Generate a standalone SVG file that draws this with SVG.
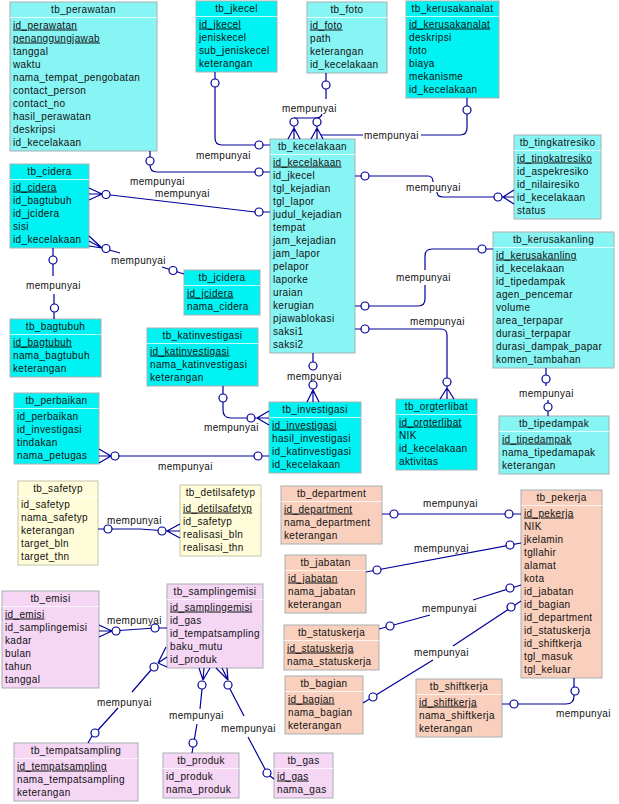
<svg xmlns="http://www.w3.org/2000/svg" width="619" height="804" viewBox="0 0 619 804">
<style>
.t{font-family:"Liberation Sans",Arial,sans-serif;font-size:10px;letter-spacing:0.35px;fill:#111}
.h{text-anchor:middle}
.u{text-decoration:underline}
.bx{stroke:#a8b0b0;stroke-width:1}
.cb{fill:#00f2f2}
.cl{fill:#88f5f5}
.pe{fill:#f9cfbd}
.pk{fill:#f5d6f5}
.ye{fill:#fffcd9;stroke:#c8c4a8}
.sp{stroke:#ffffff;stroke-opacity:0.75;stroke-width:1}
.ln{fill:none;stroke:#00009a;stroke-width:1.2}
.ci{fill:#ffffff;stroke:#00009a;stroke-width:1.2}
</style>
<rect width="619" height="804" fill="#ffffff"/>

<g id="tb_perawatan" transform="translate(10,2)">
<rect class="bx cl" width="147" height="149"/><line class="sp" x1="0" y1="15.5" x2="147" y2="15.5"/>
<text class="t h" x="73.5" y="11">tb_perawatan</text>
<text class="t u" x="3" y="26.5">id_perawatan</text>
<text class="t u" x="3" y="39.5">penanggungjawab</text>
<text class="t" x="3" y="52.5">tanggal</text>
<text class="t" x="3" y="65.5">waktu</text>
<text class="t" x="3" y="78.5">nama_tempat_pengobatan</text>
<text class="t" x="3" y="91.5">contact_person</text>
<text class="t" x="3" y="104.5">contact_no</text>
<text class="t" x="3" y="117.5">hasil_perawatan</text>
<text class="t" x="3" y="130.5">deskripsi</text>
<text class="t" x="3" y="143.5">id_kecelakaan</text>
</g>

<g id="tb_jkecel" transform="translate(196,1)">
<rect class="bx cb" width="81" height="71"/><line class="sp" x1="0" y1="15.5" x2="81" y2="15.5"/>
<text class="t h" x="40.5" y="11">tb_jkecel</text>
<text class="t u" x="3" y="26.5">id_jkecel</text>
<text class="t" x="3" y="39.5">jeniskecel</text>
<text class="t" x="3" y="52.5">sub_jeniskecel</text>
<text class="t" x="3" y="65.5">keterangan</text>
</g>

<g id="tb_foto" transform="translate(307,2)">
<rect class="bx cl" width="80" height="71"/><line class="sp" x1="0" y1="15.5" x2="80" y2="15.5"/>
<text class="t h" x="40" y="11">tb_foto</text>
<text class="t u" x="3" y="26.5">id_foto</text>
<text class="t" x="3" y="39.5">path</text>
<text class="t" x="3" y="52.5">keterangan</text>
<text class="t" x="3" y="65.5">id_kecelakaan</text>
</g>

<g id="tb_kerusakanalat" transform="translate(406,1)">
<rect class="bx cb" width="93" height="97"/><line class="sp" x1="0" y1="15.5" x2="93" y2="15.5"/>
<text class="t h" x="46.5" y="11">tb_kerusakanalat</text>
<text class="t u" x="3" y="26.5">id_kerusakanalat</text>
<text class="t" x="3" y="39.5">deskripsi</text>
<text class="t" x="3" y="52.5">foto</text>
<text class="t" x="3" y="65.5">biaya</text>
<text class="t" x="3" y="78.5">mekanisme</text>
<text class="t" x="3" y="91.5">id_kecelakaan</text>
</g>

<g id="tb_kecelakaan" transform="translate(270,139)">
<rect class="bx cl" width="85" height="214"/><line class="sp" x1="0" y1="15.5" x2="85" y2="15.5"/>
<text class="t h" x="42.5" y="11">tb_kecelakaan</text>
<text class="t u" x="3" y="26.5">id_kecelakaan</text>
<text class="t" x="3" y="39.5">id_jkecel</text>
<text class="t" x="3" y="52.5">tgl_kejadian</text>
<text class="t" x="3" y="65.5">tgl_lapor</text>
<text class="t" x="3" y="78.5">judul_kejadian</text>
<text class="t" x="3" y="91.5">tempat</text>
<text class="t" x="3" y="104.5">jam_kejadian</text>
<text class="t" x="3" y="117.5">jam_lapor</text>
<text class="t" x="3" y="130.5">pelapor</text>
<text class="t" x="3" y="143.5">laporke</text>
<text class="t" x="3" y="156.5">uraian</text>
<text class="t" x="3" y="169.5">kerugian</text>
<text class="t" x="3" y="182.5">pjawablokasi</text>
<text class="t" x="3" y="195.5">saksi1</text>
<text class="t" x="3" y="208.5">saksi2</text>
</g>

<g id="tb_tingkatresiko" transform="translate(514,135)">
<rect class="bx cl" width="87" height="84"/><line class="sp" x1="0" y1="15.5" x2="87" y2="15.5"/>
<text class="t h" x="43.5" y="11">tb_tingkatresiko</text>
<text class="t u" x="3" y="26.5">id_tingkatresiko</text>
<text class="t" x="3" y="39.5">id_aspekresiko</text>
<text class="t" x="3" y="52.5">id_nilairesiko</text>
<text class="t" x="3" y="65.5">id_kecelakaan</text>
<text class="t" x="3" y="78.5">status</text>
</g>

<g id="tb_cidera" transform="translate(10,164)">
<rect class="bx cb" width="79" height="84"/><line class="sp" x1="0" y1="15.5" x2="79" y2="15.5"/>
<text class="t h" x="39.5" y="11">tb_cidera</text>
<text class="t u" x="3" y="26.5">id_cidera</text>
<text class="t" x="3" y="39.5">id_bagtubuh</text>
<text class="t" x="3" y="52.5">id_jcidera</text>
<text class="t" x="3" y="65.5">sisi</text>
<text class="t" x="3" y="78.5">id_kecelakaan</text>
</g>

<g id="tb_jcidera" transform="translate(184,270)">
<rect class="bx cb" width="76" height="45"/><line class="sp" x1="0" y1="15.5" x2="76" y2="15.5"/>
<text class="t h" x="38" y="11">tb_jcidera</text>
<text class="t u" x="3" y="26.5">id_jcidera</text>
<text class="t" x="3" y="39.5">nama_cidera</text>
</g>

<g id="tb_bagtubuh" transform="translate(10,319)">
<rect class="bx cb" width="91" height="58"/><line class="sp" x1="0" y1="15.5" x2="91" y2="15.5"/>
<text class="t h" x="45.5" y="11">tb_bagtubuh</text>
<text class="t u" x="3" y="26.5">id_bagtubuh</text>
<text class="t" x="3" y="39.5">nama_bagtubuh</text>
<text class="t" x="3" y="52.5">keterangan</text>
</g>

<g id="tb_katinvestigasi" transform="translate(147,328)">
<rect class="bx cb" width="111" height="58"/><line class="sp" x1="0" y1="15.5" x2="111" y2="15.5"/>
<text class="t h" x="55.5" y="11">tb_katinvestigasi</text>
<text class="t u" x="3" y="26.5">id_katinvestigasi</text>
<text class="t" x="3" y="39.5">nama_katinvestigasi</text>
<text class="t" x="3" y="52.5">keterangan</text>
</g>

<g id="tb_kerusakanling" transform="translate(493,232)">
<rect class="bx cl" width="121" height="136"/><line class="sp" x1="0" y1="15.5" x2="121" y2="15.5"/>
<text class="t h" x="60.5" y="11">tb_kerusakanling</text>
<text class="t u" x="3" y="26.5">id_kerusakanling</text>
<text class="t" x="3" y="39.5">id_kecelakaan</text>
<text class="t" x="3" y="52.5">id_tipedampak</text>
<text class="t" x="3" y="65.5">agen_pencemar</text>
<text class="t" x="3" y="78.5">volume</text>
<text class="t" x="3" y="91.5">area_terpapar</text>
<text class="t" x="3" y="104.5">durasi_terpapar</text>
<text class="t" x="3" y="117.5">durasi_dampak_papar</text>
<text class="t" x="3" y="130.5">komen_tambahan</text>
</g>

<g id="tb_perbaikan" transform="translate(14,393)">
<rect class="bx cb" width="85" height="71"/><line class="sp" x1="0" y1="15.5" x2="85" y2="15.5"/>
<text class="t h" x="42.5" y="11">tb_perbaikan</text>
<text class="t" x="3" y="26.5">id_perbaikan</text>
<text class="t" x="3" y="39.5">id_investigasi</text>
<text class="t" x="3" y="52.5">tindakan</text>
<text class="t" x="3" y="65.5">nama_petugas</text>
</g>

<g id="tb_investigasi" transform="translate(269,402)">
<rect class="bx cb" width="92" height="71"/><line class="sp" x1="0" y1="15.5" x2="92" y2="15.5"/>
<text class="t h" x="46" y="11">tb_investigasi</text>
<text class="t u" x="3" y="26.5">id_investigasi</text>
<text class="t" x="3" y="39.5">hasil_investigasi</text>
<text class="t" x="3" y="52.5">id_katinvestigasi</text>
<text class="t" x="3" y="65.5">id_kecelakaan</text>
</g>

<g id="tb_orgterlibat" transform="translate(396,399)">
<rect class="bx cb" width="81" height="71"/><line class="sp" x1="0" y1="15.5" x2="81" y2="15.5"/>
<text class="t h" x="40.5" y="11">tb_orgterlibat</text>
<text class="t u" x="3" y="26.5">id_orgterlibat</text>
<text class="t" x="3" y="39.5">NIK</text>
<text class="t" x="3" y="52.5">id_kecelakaan</text>
<text class="t" x="3" y="65.5">aktivitas</text>
</g>

<g id="tb_tipedampak" transform="translate(499,416)">
<rect class="bx cl" width="110" height="58"/><line class="sp" x1="0" y1="15.5" x2="110" y2="15.5"/>
<text class="t h" x="55" y="11">tb_tipedampak</text>
<text class="t u" x="3" y="26.5">id_tipedampak</text>
<text class="t" x="3" y="39.5">nama_tipedamapak</text>
<text class="t" x="3" y="52.5">keterangan</text>
</g>

<g id="tb_safetyp" transform="translate(18,481)">
<rect class="bx ye" width="80" height="84"/><line class="sp" x1="0" y1="15.5" x2="80" y2="15.5"/>
<text class="t h" x="40" y="11">tb_safetyp</text>
<text class="t" x="3" y="26.5">id_safetyp</text>
<text class="t" x="3" y="39.5">nama_safetyp</text>
<text class="t" x="3" y="52.5">keterangan</text>
<text class="t" x="3" y="65.5">target_bln</text>
<text class="t" x="3" y="78.5">target_thn</text>
</g>

<g id="tb_detilsafetyp" transform="translate(180,485)">
<rect class="bx ye" width="81" height="71"/><line class="sp" x1="0" y1="15.5" x2="81" y2="15.5"/>
<text class="t h" x="40.5" y="11">tb_detilsafetyp</text>
<text class="t u" x="3" y="26.5">id_detilsafetyp</text>
<text class="t" x="3" y="39.5">id_safetyp</text>
<text class="t" x="3" y="52.5">realisasi_bln</text>
<text class="t" x="3" y="65.5">realisasi_thn</text>
</g>

<g id="tb_department" transform="translate(281,486)">
<rect class="bx pe" width="101" height="58"/><line class="sp" x1="0" y1="15.5" x2="101" y2="15.5"/>
<text class="t h" x="50.5" y="11">tb_department</text>
<text class="t u" x="3" y="26.5">id_department</text>
<text class="t" x="3" y="39.5">nama_department</text>
<text class="t" x="3" y="52.5">keterangan</text>
</g>

<g id="tb_pekerja" transform="translate(521,490)">
<rect class="bx pe" width="81" height="188"/><line class="sp" x1="0" y1="15.5" x2="81" y2="15.5"/>
<text class="t h" x="40.5" y="11">tb_pekerja</text>
<text class="t u" x="3" y="26.5">id_pekerja</text>
<text class="t" x="3" y="39.5">NIK</text>
<text class="t" x="3" y="52.5">jkelamin</text>
<text class="t" x="3" y="65.5">tgllahir</text>
<text class="t" x="3" y="78.5">alamat</text>
<text class="t" x="3" y="91.5">kota</text>
<text class="t" x="3" y="104.5">id_jabatan</text>
<text class="t" x="3" y="117.5">id_bagian</text>
<text class="t" x="3" y="130.5">id_department</text>
<text class="t" x="3" y="143.5">id_statuskerja</text>
<text class="t" x="3" y="156.5">id_shiftkerja</text>
<text class="t" x="3" y="169.5">tgl_masuk</text>
<text class="t" x="3" y="182.5">tgl_keluar</text>
</g>

<g id="tb_jabatan" transform="translate(285,555)">
<rect class="bx pe" width="81" height="58"/><line class="sp" x1="0" y1="15.5" x2="81" y2="15.5"/>
<text class="t h" x="40.5" y="11">tb_jabatan</text>
<text class="t u" x="3" y="26.5">id_jabatan</text>
<text class="t" x="3" y="39.5">nama_jabatan</text>
<text class="t" x="3" y="52.5">keterangan</text>
</g>

<g id="tb_statuskerja" transform="translate(284,625)">
<rect class="bx pe" width="95" height="45"/><line class="sp" x1="0" y1="15.5" x2="95" y2="15.5"/>
<text class="t h" x="47.5" y="11">tb_statuskerja</text>
<text class="t u" x="3" y="26.5">id_statuskerja</text>
<text class="t" x="3" y="39.5">nama_statuskerja</text>
</g>

<g id="tb_bagian" transform="translate(285,676)">
<rect class="bx pe" width="78" height="58"/><line class="sp" x1="0" y1="15.5" x2="78" y2="15.5"/>
<text class="t h" x="39" y="11">tb_bagian</text>
<text class="t u" x="3" y="26.5">id_bagian</text>
<text class="t" x="3" y="39.5">nama_bagian</text>
<text class="t" x="3" y="52.5">keterangan</text>
</g>

<g id="tb_shiftkerja" transform="translate(416,679)">
<rect class="bx pe" width="86" height="58"/><line class="sp" x1="0" y1="15.5" x2="86" y2="15.5"/>
<text class="t h" x="43" y="11">tb_shiftkerja</text>
<text class="t u" x="3" y="26.5">id_shiftkerja</text>
<text class="t" x="3" y="39.5">nama_shiftkerja</text>
<text class="t" x="3" y="52.5">keterangan</text>
</g>

<g id="tb_emisi" transform="translate(2,591)">
<rect class="bx pk" width="97" height="97"/><line class="sp" x1="0" y1="15.5" x2="97" y2="15.5"/>
<text class="t h" x="48.5" y="11">tb_emisi</text>
<text class="t u" x="3" y="26.5">id_emisi</text>
<text class="t" x="3" y="39.5">id_samplingemisi</text>
<text class="t" x="3" y="52.5">kadar</text>
<text class="t" x="3" y="65.5">bulan</text>
<text class="t" x="3" y="78.5">tahun</text>
<text class="t" x="3" y="91.5">tanggal</text>
</g>

<g id="tb_samplingemisi" transform="translate(167,584)">
<rect class="bx pk" width="96" height="84"/><line class="sp" x1="0" y1="15.5" x2="96" y2="15.5"/>
<text class="t h" x="48" y="11">tb_samplingemisi</text>
<text class="t u" x="3" y="26.5">id_samplingemisi</text>
<text class="t" x="3" y="39.5">id_gas</text>
<text class="t" x="3" y="52.5">id_tempatsampling</text>
<text class="t" x="3" y="65.5">baku_mutu</text>
<text class="t" x="3" y="78.5">id_produk</text>
</g>

<g id="tb_tempatsampling" transform="translate(14,743)">
<rect class="bx pk" width="124" height="58"/><line class="sp" x1="0" y1="15.5" x2="124" y2="15.5"/>
<text class="t h" x="62" y="11">tb_tempatsampling</text>
<text class="t u" x="3" y="26.5">id_tempatsampling</text>
<text class="t" x="3" y="39.5">nama_tempatsampling</text>
<text class="t" x="3" y="52.5">keterangan</text>
</g>

<g id="tb_produk" transform="translate(163,753)">
<rect class="bx pk" width="76" height="45"/><line class="sp" x1="0" y1="15.5" x2="76" y2="15.5"/>
<text class="t h" x="38" y="11">tb_produk</text>
<text class="t" x="3" y="26.5">id_produk</text>
<text class="t" x="3" y="39.5">nama_produk</text>
</g>

<g id="tb_gas" transform="translate(274,753)">
<rect class="bx pk" width="59" height="45"/><line class="sp" x1="0" y1="15.5" x2="59" y2="15.5"/>
<text class="t h" x="29.5" y="11">tb_gas</text>
<text class="t u" x="3" y="26.5">id_gas</text>
<text class="t" x="3" y="39.5">nama_gas</text>
</g>

<g id="connectors">
<!-- jkecel - kecelakaan -->
<path class="ln" d="M215,72 V138 Q215,145 222,145 H270"/>
<circle class="ci" cx="215" cy="83" r="4"/><circle class="ci" cx="259" cy="145" r="4"/>
<text class="t" x="196" y="159">mempunyai</text>
<!-- foto - kecelakaan -->
<path class="ln" d="M326,73 V99 M322,114 Q321,118 316,118 H294"/>
<path class="ln" d="M294,126 V139 M294,128 L288,139 M294,128 L300,139 M317,126 V139 M317,128 L311,139 M317,128 L323,139"/>
<circle class="ci" cx="326" cy="85" r="4"/><circle class="ci" cx="294" cy="122" r="4"/><circle class="ci" cx="317" cy="122" r="4"/>
<text class="t" x="282" y="112">mempunyai</text>
<!-- kerusakanalat - kecelakaan -->
<path class="ln" d="M467,98 V128 Q467,135 460,135 H421 M363,135 H321"/>
<circle class="ci" cx="467" cy="110" r="4"/>
<text class="t" x="364" y="139">mempunyai</text>
<!-- perawatan - kecelakaan -->
<path class="ln" d="M150,151 V165 Q150,172 157,172 H270"/>
<circle class="ci" cx="150" cy="161" r="4"/><circle class="ci" cx="259" cy="172" r="4"/>
<text class="t" x="130" y="185">mempunyai</text>
<!-- cidera - kecelakaan -->
<path class="ln" d="M89,188 L102,194 M89,194 H102 M89,200 L102,194 M102,194 L255,212 H270"/>
<circle class="ci" cx="106" cy="194.5" r="4"/><circle class="ci" cx="259" cy="212" r="4"/>
<text class="t" x="155" y="197">mempunyai</text>
<!-- cidera - jcidera -->
<path class="ln" d="M89,236 L102,248 M89,241 L102,248 M89,246 L102,248 M102,248 L120,253 M162,267 L184,274"/>
<circle class="ci" cx="106" cy="248.5" r="4"/><circle class="ci" cx="173" cy="270.5" r="4"/>
<text class="t" x="111" y="264">mempunyai</text>
<!-- cidera - bagtubuh -->
<path class="ln" d="M53,248 V276 M54,294 V319"/>
<circle class="ci" cx="53" cy="260" r="4"/><circle class="ci" cx="54.5" cy="308" r="4"/>
<text class="t" x="26" y="289">mempunyai</text>
<!-- kecelakaan - tingkatresiko -->
<path class="ln" d="M355,176 H428 Q433,176 433,182 M437,192 Q437,197 443,197 H503 M503,197 L514,190 M503,197 H514 M503,197 L514,204"/>
<circle class="ci" cx="365" cy="176" r="4"/><circle class="ci" cx="498" cy="197" r="4"/>
<text class="t" x="406" y="191">mempunyai</text>
<!-- kecelakaan - kerusakanling -->
<path class="ln" d="M355,306 H418 Q425,306 425,299 V285 M425,270 V256 Q425,249 432,249 H493"/>
<circle class="ci" cx="365" cy="306" r="4"/><circle class="ci" cx="482" cy="249" r="4"/>
<text class="t" x="396" y="281">mempunyai</text>
<!-- kecelakaan - orgterlibat -->
<path class="ln" d="M355,329 H441 Q447,329 447,335 V399 M447,388 L440,399 M447,388 L454,399"/>
<circle class="ci" cx="365" cy="329" r="4"/><circle class="ci" cx="447" cy="382" r="4"/>
<text class="t" x="410" y="325">mempunyai</text>
<!-- kecelakaan - investigasi -->
<path class="ln" d="M313,353 V370 M313,381 V402 M313,390 L307,402 M313,390 L319,402"/>
<circle class="ci" cx="313" cy="366" r="4"/><circle class="ci" cx="313" cy="385" r="4"/>
<text class="t" x="287" y="380">mempunyai</text>
<!-- kerusakanling - tipedampak -->
<path class="ln" d="M546,368 V386 M548,400 V416"/>
<circle class="ci" cx="546" cy="379" r="4"/><circle class="ci" cx="548" cy="407" r="4"/>
<text class="t" x="519" y="397">mempunyai</text>
<!-- katinvestigasi - investigasi -->
<path class="ln" d="M223,386 V410 Q223,418 231,418 H257 M257,418 L269,411 M257,418 H269 M257,418 L269,425"/>
<circle class="ci" cx="223" cy="398" r="4"/><circle class="ci" cx="251" cy="418" r="4"/>
<text class="t" x="204" y="431">mempunyai</text>
<!-- perbaikan - investigasi -->
<path class="ln" d="M99,449 L111,456 M99,456 H111 M99,463 L111,456 M111,456 H269"/>
<circle class="ci" cx="115" cy="456" r="4"/><circle class="ci" cx="258" cy="456" r="4"/>
<text class="t" x="158" y="470">mempunyai</text>
<!-- safetyp - detilsafetyp -->
<path class="ln" d="M98,529 H140 L167,531 M167,531 L180,524 M167,531 H180 M167,531 L180,538"/>
<circle class="ci" cx="108" cy="529" r="4"/><circle class="ci" cx="162" cy="531" r="4"/>
<text class="t" x="107" y="524">mempunyai</text>
<!-- department - pekerja -->
<path class="ln" d="M382,514 H521"/>
<circle class="ci" cx="394" cy="514" r="4"/><circle class="ci" cx="509" cy="514" r="4"/>
<text class="t" x="423" y="507">mempunyai</text>
<!-- jabatan - pekerja -->
<path class="ln" d="M366,572 L521,543"/>
<circle class="ci" cx="377" cy="570" r="4"/><circle class="ci" cx="510" cy="545" r="4"/>
<text class="t" x="414" y="552">mempunyai</text>
<!-- statuskerja - pekerja -->
<path class="ln" d="M379,629 L430,615 M473,600 L521,585"/>
<circle class="ci" cx="390" cy="626" r="4"/><circle class="ci" cx="510" cy="588" r="4"/>
<text class="t" x="422" y="612">mempunyai</text>
<!-- bagian - pekerja -->
<path class="ln" d="M363,703 L433,660 M453,646 L521,601"/>
<circle class="ci" cx="373" cy="697" r="4"/><circle class="ci" cx="511" cy="607" r="4"/>
<text class="t" x="414" y="656">mempunyai</text>
<!-- shiftkerja - pekerja -->
<path class="ln" d="M502,704 H566 Q574,704 574,696 V678"/>
<circle class="ci" cx="514" cy="704" r="4"/><circle class="ci" cx="575" cy="691" r="4"/>
<text class="t" x="556" y="717">mempunyai</text>
<!-- emisi - samplingemisi -->
<path class="ln" d="M99,625 L112,631 M99,631 H112 M99,637 L112,631 M112,631 L155,628 H167"/>
<circle class="ci" cx="116" cy="631" r="4"/><circle class="ci" cx="155" cy="628" r="4"/>
<text class="t" x="107" y="624">mempunyai</text>
<!-- samplingemisi - tempatsampling -->
<path class="ln" d="M166,647 L158,663 M167,657 L158,663 M167,667 L158,663 M151,670 L132,692 M118,708 L98,730 M92,736 L88,743"/>
<circle class="ci" cx="154" cy="667" r="4"/><circle class="ci" cx="95" cy="733" r="4"/>
<text class="t" x="97" y="706">mempunyai</text>
<!-- samplingemisi - produk -->
<path class="ln" d="M199,668 L203,680 M204,668 L203,680 M210,668 L203,680 M202,689 L200,709 M197,724 L192,753"/>
<circle class="ci" cx="202" cy="685" r="4"/><circle class="ci" cx="193" cy="743" r="4"/>
<text class="t" x="169" y="719">mempunyai</text>
<!-- samplingemisi - gas -->
<path class="ln" d="M216,668 L228,680 M222,668 L228,680 M227,668 L228,680 M230,689 L244,716 M248,737 L265,769 M270,776 L274,779"/>
<circle class="ci" cx="228" cy="685" r="4"/><circle class="ci" cx="267" cy="773" r="4"/>
<text class="t" x="221" y="732">mempunyai</text>
</g>
</svg>
